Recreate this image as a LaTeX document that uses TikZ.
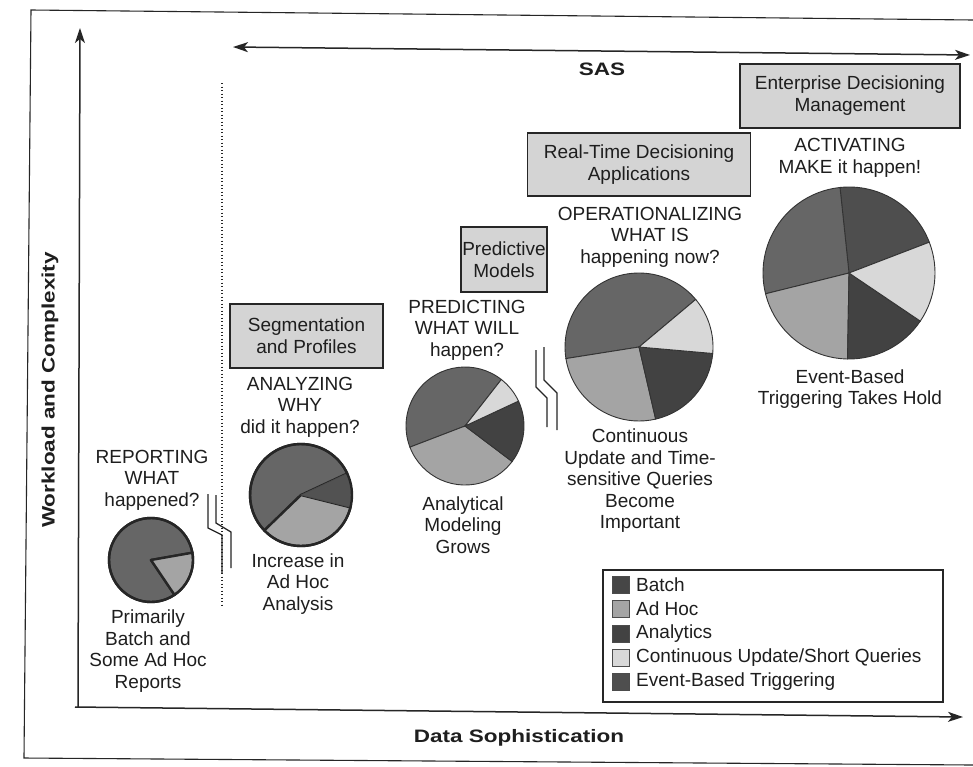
\documentclass[tikz,border=0pt]{standalone}
\usepackage{fontspec}
\setmainfont{Liberation Sans}
\usetikzlibrary{arrows.meta}
\definecolor{txt}{HTML}{1E1E1E}
\definecolor{cbatch}{HTML}{666666}
\definecolor{cadhoc}{HTML}{A4A4A4}
\definecolor{canaly}{HTML}{424242}
\definecolor{ccont}{HTML}{D8D8D8}
\definecolor{cevent}{HTML}{4E4E4E}
\definecolor{boxgray}{HTML}{D4D4D4}
\newcommand\wideb[1]{\scalebox{1.25}[1]{\bfseries #1}}
% slice: center, start, end, radius(pt), colour, style
\newcommand\pslice[6]{\filldraw[fill=#5,#6] (#1) -- ++(#2:#4pt) arc[start angle=#2, end angle=#3, radius=#4pt] -- cycle;}
\begin{document}
\begin{tikzpicture}[x=1pt,y=-1pt,
  every node/.style={text=txt},
  body/.style={font=\fontsize{19}{21.5}\selectfont, align=center, inner sep=0pt},
  stagebox/.style={draw=black!85, fill=boxgray, line width=1.1pt, align=center, inner sep=0pt,
     font=\fontsize{19}{22}\selectfont},
  frameline/.style={draw=black!85, line width=1.1pt},
  axis/.style={draw=black!85, line width=1.5pt},
  tip/.style={-{Stealth[length=15pt,width=10pt,inset=4pt]}},
  tips/.style={{Stealth[length=15pt,width=10pt,inset=4pt]}-{Stealth[length=15pt,width=10pt,inset=4pt]}},
  thinpie/.style={draw=black!80, line width=0.9pt},
  thickpie/.style={draw=black!85, line width=2.4pt, line join=round},
  breakline/.style={draw=black!85, line width=1.3pt},
  legsq/.style={draw=black!70, line width=0.6pt, minimum size=17pt, inner sep=0pt},
  legtxt/.style={font=\fontsize{19}{21}\selectfont, anchor=west, inner sep=0pt}
]
\useasboundingbox (0,0) rectangle (973,766);
\fill[white] (0,0) rectangle (973,766);

% outer frame
\coordinate (f1) at (31,10);
\coordinate (f2) at (973,20);
\coordinate (f3) at (24,758);
\coordinate (f4) at (973,765);
\draw[frameline] (f2) -- (f1) -- (f3) -- (f4);

% axes
\coordinate (yo) at (78,707);
\coordinate (yt) at (80,28);
\coordinate (xo) at (75,707);
\coordinate (xt) at (963,717);
\draw[axis,tip] (yo) -- (yt);
\draw[axis,tip] (xo) -- (xt);
\node[rotate=90, inner sep=0pt] (ylab) at (50,390) {\fontsize{18}{20}\selectfont\wideb{Workload and Complexity}};
\node[inner sep=0pt] (xlab) at (519,738) {\fontsize{18}{20}\selectfont\wideb{Data Sophistication}};

% SAS arrow
\coordinate (sl) at (233,47);
\coordinate (sr) at (970,55);
\draw[axis,tips] (sl) -- (sr);
\node[inner sep=0pt] (sas) at (602,69) {\fontsize{18}{20}\selectfont\wideb{SAS}};

% dotted divider
\coordinate (d1) at (222,83);
\coordinate (d2) at (222,605);
\draw[draw=black!85, line width=1.4pt, dash pattern=on 1.4pt off 2.1pt] (d1) -- (d2);

% break marks
\coordinate (a1) at (208,494); \coordinate (a2) at (208,528); \coordinate (a3) at (222,535); \coordinate (a4) at (222,573);
\coordinate (b1) at (216,495); \coordinate (b2) at (216,523); \coordinate (b3) at (231,532); \coordinate (b4) at (231,568);
\draw[breakline] (a1) -- (a2) -- (a3) -- (a4);
\draw[breakline] (b1) -- (b2) -- (b3) -- (b4);
\coordinate (c1) at (536,350); \coordinate (c2) at (536,387); \coordinate (c3) at (547,398); \coordinate (c4) at (547,427);
\coordinate (e1) at (544,347); \coordinate (e2) at (544,380); \coordinate (e3) at (557,393); \coordinate (e4) at (557,430);
\draw[breakline] (c1) -- (c2) -- (c3) -- (c4);
\draw[breakline] (e1) -- (e2) -- (e3) -- (e4);

% stage boxes
\node[stagebox, minimum width=153pt, minimum height=64pt] (seg) at (306.5,336) {Segmentation\\and Profiles};
\node[stagebox, minimum width=86pt, minimum height=65pt] (pred) at (504,259.5) {Predictive\\Models};
\node[stagebox, minimum width=223pt, minimum height=63pt] (rtd) at (639,164.5) {Real-Time Decisioning\\Applications};
\node[stagebox, minimum width=220pt, minimum height=64pt] (edm) at (850,96) {Enterprise Decisioning\\Management};

% headers
\node[body] (h1) at (152,480) {REPORTING\\WHAT\\happened?};
\node[body] (h2) at (300,407) {ANALYZING\\WHY\\did it happen?};
\node[body] (h3) at (467,330) {PREDICTING\\WHAT WILL\\happen?};
\node[body] (h4) at (650,237) {OPERATIONALIZING\\WHAT IS\\happening now?};
\node[body] (h5) at (850,158) {ACTIVATING\\MAKE it happen!};

% footers
\node[body] (t1) at (148,651) {Primarily\\Batch and\\Some Ad Hoc\\Reports};
\node[body] (t2) at (298,584) {Increase in\\Ad Hoc\\Analysis};
\node[body] (t3) at (463,525) {Analytical\\Modeling\\Grows};
\node[body] (t4) at (640,481) {Continuous\\Update and Time-\\sensitive Queries\\Become\\Important};
\node[body] (t5) at (850,389) {Event-Based\\Triggering Takes Hold};

% pie 1
\coordinate (p1) at (151,560);
\pslice{p1}{10}{304}{42}{cbatch}{thickpie}
\pslice{p1}{304}{370}{42}{cadhoc}{thickpie}
\draw[thickpie] (p1) circle[radius=42pt];

% pie 2
\coordinate (p2) at (301,495);
\pslice{p2}{25}{224}{51}{cbatch}{thickpie}
\pslice{p2}{224}{346}{51}{cadhoc}{thickpie}
\pslice{p2}{346}{385}{51}{cbatch!80!black}{draw=black!70, line width=0.6pt}
\draw[thickpie] (p2) circle[radius=51pt];

% pie 3
\coordinate (p3) at (465,426);
\pslice{p3}{52}{201}{59}{cbatch}{thinpie}
\pslice{p3}{201}{323}{59}{cadhoc}{thinpie}
\pslice{p3}{323}{385}{59}{canaly}{thinpie}
\pslice{p3}{25}{52}{59}{ccont}{thinpie}

% pie 4
\coordinate (p4) at (639,347);
\pslice{p4}{40}{189}{74}{cbatch}{thinpie}
\pslice{p4}{189}{283}{74}{cadhoc}{thinpie}
\pslice{p4}{283}{355}{74}{canaly}{thinpie}
\pslice{p4}{355}{400}{74}{ccont}{thinpie}

% pie 5
\coordinate (p5) at (849,273);
\pslice{p5}{21}{96}{86}{cevent}{thinpie}
\pslice{p5}{96}{194}{86}{cbatch}{thinpie}
\pslice{p5}{194}{269}{86}{cadhoc}{thinpie}
\pslice{p5}{269}{326}{86}{canaly}{thinpie}
\pslice{p5}{326}{381}{86}{ccont}{thinpie}

% legend
\node[draw=black!85, line width=1.1pt, minimum width=340pt, minimum height=132pt, inner sep=0pt] (leg) at (773,636) {};
\node[legsq, fill=cevent!90!black] (q1) at (621,585) {};
\node[legsq, fill=cadhoc] (q2) at (621,609) {};
\node[legsq, fill=canaly] (q3) at (621,634) {};
\node[legsq, fill=ccont] (q4) at (621,658) {};
\node[legsq, fill=cevent] (q5) at (621,682) {};
\node[legtxt] (l1) at (636,585) {Batch};
\node[legtxt] (l2) at (636,609) {Ad Hoc};
\node[legtxt] (l3) at (636,634) {Analytics};
\node[legtxt] (l4) at (636,658) {Continuous Update/Short Queries};
\node[legtxt] (l5) at (636,682) {Event-Based Triggering};
\end{tikzpicture}
\end{document}
